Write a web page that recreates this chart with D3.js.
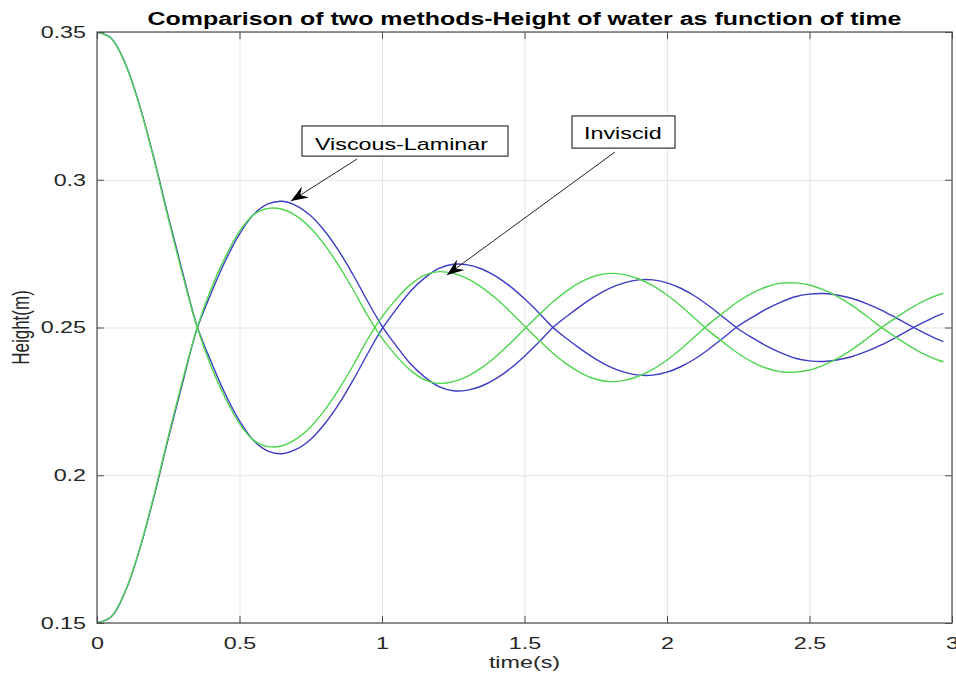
<!DOCTYPE html>
<html lang="en">
<head>
<meta charset="utf-8">
<title>Comparison of two methods</title>
<script src="https://cdn.jsdelivr.net/npm/d3@7"></script>
<style>
  body { margin: 0; background: #fff; }
  svg text { font-family: "Liberation Sans", Arial, sans-serif; }
  .grid line { stroke: #e4e4e4; }
  .grid path { display: none; }
  .axis path { display: none; }
  .axis line { stroke: #4d4d4d; }
  .axis text { fill: #262626; font-size: 17px; }
</style>
</head>
<body>
<script>
// time samples (s)
var timeS = [0, 0.05, 0.1, 0.15, 0.2, 0.25, 0.3, 0.35, 0.4, 0.45, 0.5, 0.55, 0.6, 0.65, 0.7, 0.75, 0.8, 0.85, 0.9, 0.95,
             1, 1.05, 1.1, 1.15, 1.2, 1.25, 1.3, 1.35, 1.4, 1.45, 1.5, 1.55, 1.6, 1.65, 1.7, 1.75, 1.8, 1.85, 1.9, 1.95,
             2, 2.05, 2.1, 2.15, 2.2, 2.25, 2.3, 2.35, 2.4, 2.45, 2.5, 2.55, 2.6, 2.65, 2.7, 2.75, 2.8, 2.85, 2.9, 2.95, 2.97];

// viscous-laminar (blue), tank starting high / low
var viscousHigh = [0.3500, 0.3479, 0.3392, 0.3250, 0.3072, 0.2876, 0.2688, 0.2508, 0.2385, 0.2275, 0.2184, 0.2117, 0.2082, 0.2073, 0.2088, 0.2122, 0.2175, 0.2243, 0.2324, 0.2412,
                   0.2495, 0.2562, 0.2623, 0.2668, 0.2700, 0.2714, 0.2712, 0.2698, 0.2673, 0.2639, 0.2597, 0.2550, 0.2500, 0.2461, 0.2425, 0.2393, 0.2367, 0.2349, 0.2339, 0.2339,
                   0.2349, 0.2368, 0.2395, 0.2429, 0.2467, 0.2505, 0.2535, 0.2563, 0.2586, 0.2604, 0.2613, 0.2615, 0.2609, 0.2598, 0.2581, 0.2560, 0.2535, 0.2508, 0.2483, 0.2460, 0.2452];
var viscousLow  = [0.1500, 0.1521, 0.1608, 0.1750, 0.1928, 0.2124, 0.2312, 0.2492, 0.2615, 0.2725, 0.2816, 0.2883, 0.2918, 0.2927, 0.2912, 0.2878, 0.2825, 0.2757, 0.2676, 0.2588,
                   0.2505, 0.2438, 0.2377, 0.2332, 0.2300, 0.2286, 0.2288, 0.2302, 0.2327, 0.2361, 0.2403, 0.2450, 0.2500, 0.2539, 0.2575, 0.2607, 0.2633, 0.2651, 0.2661, 0.2661,
                   0.2651, 0.2632, 0.2605, 0.2571, 0.2533, 0.2495, 0.2465, 0.2437, 0.2414, 0.2396, 0.2387, 0.2385, 0.2391, 0.2402, 0.2419, 0.2440, 0.2465, 0.2492, 0.2517, 0.2540, 0.2548];

// inviscid (green), tank starting high / low
var inviscidHigh = [0.3500, 0.3478, 0.3390, 0.3248, 0.3068, 0.2870, 0.2680, 0.2505, 0.2370, 0.2262, 0.2175, 0.2118, 0.2097, 0.2100, 0.2123, 0.2164, 0.2222, 0.2293, 0.2374, 0.2461,
                    0.2536, 0.2596, 0.2645, 0.2677, 0.2689, 0.2683, 0.2665, 0.2636, 0.2598, 0.2553, 0.2505, 0.2458, 0.2413, 0.2375, 0.2345, 0.2325, 0.2317, 0.2321, 0.2335, 0.2358,
                    0.2390, 0.2428, 0.2471, 0.2514, 0.2552, 0.2588, 0.2617, 0.2638, 0.2650, 0.2651, 0.2644, 0.2627, 0.2604, 0.2574, 0.2539, 0.2502, 0.2469, 0.2438, 0.2411, 0.2390, 0.2384];
var inviscidLow  = [0.1500, 0.1522, 0.1610, 0.1752, 0.1932, 0.2130, 0.2320, 0.2495, 0.2630, 0.2738, 0.2825, 0.2882, 0.2903, 0.2900, 0.2877, 0.2836, 0.2778, 0.2707, 0.2626, 0.2539,
                    0.2464, 0.2404, 0.2355, 0.2323, 0.2311, 0.2317, 0.2335, 0.2364, 0.2402, 0.2447, 0.2495, 0.2542, 0.2587, 0.2625, 0.2655, 0.2675, 0.2683, 0.2679, 0.2665, 0.2642,
                    0.2610, 0.2572, 0.2529, 0.2486, 0.2448, 0.2412, 0.2383, 0.2362, 0.2350, 0.2349, 0.2356, 0.2373, 0.2396, 0.2426, 0.2461, 0.2498, 0.2531, 0.2562, 0.2589, 0.2610, 0.2616];

var xTicks = [0, 0.5, 1, 1.5, 2, 2.5, 3];
var yTicks = [0.15, 0.2, 0.25, 0.3, 0.35];

var W = 956, H = 679;
var plotL = 97, plotR = 952, plotT = 32, plotB = 623;
var SX = 1.37; // the picture's text is stretched sideways

var svg = d3.select("body").append("svg")
    .attr("width", W)
    .attr("height", H);

var x = d3.scaleLinear().domain([0, 3]).range([plotL, plotR]);
var y = d3.scaleLinear().domain([0.15, 0.35]).range([plotB, plotT]);

function stretch(sel) {
    sel.each(function () {
        var w = this.getComputedTextLength();
        d3.select(this).attr("textLength", w * SX).attr("lengthAdjust", "spacingAndGlyphs");
    });
}

// grid
svg.append("g").attr("class", "grid")
    .attr("transform", "translate(0," + plotB + ")")
    .call(d3.axisBottom(x).tickValues(xTicks).tickSize(-(plotB - plotT)).tickFormat(""));
svg.append("g").attr("class", "grid")
    .attr("transform", "translate(" + plotL + ",0)")
    .call(d3.axisLeft(y).tickValues(yTicks).tickSize(-(plotR - plotL)).tickFormat(""));

// curves
svg.append("clipPath").attr("id", "plot")
    .append("rect").attr("x", plotL).attr("y", plotT).attr("width", plotR - plotL).attr("height", plotB - plotT);

var line = d3.line()
    .x(function (d) { return x(d[0]); })
    .y(function (d) { return y(d[1]); })
    .curve(d3.curveCatmullRom.alpha(0.5));

var series = [
    { values: viscousHigh, color: "#3c3cc4" },
    { values: viscousLow, color: "#3c3cc4" },
    { values: inviscidHigh, color: "#4ed64e" },
    { values: inviscidLow, color: "#4ed64e" }
];

svg.append("g").attr("clip-path", "url(#plot)")
    .selectAll("path")
    .data(series)
    .enter()
    .append("path")
    .attr("fill", "none")
    .attr("stroke", function (d) { return d.color; })
    .attr("stroke-width", 1.4)
    .attr("d", function (d) {
        return line(timeS.map(function (t, i) { return [t, d.values[i]]; }));
    });

// axes, ticks point inward
var xAxis = svg.append("g").attr("class", "axis")
    .attr("transform", "translate(0," + plotB + ")")
    .call(d3.axisBottom(x).tickValues(xTicks).tickSizeInner(-7).tickSizeOuter(0).tickPadding(14)
        .tickFormat(function (d) { return String(d); }));
xAxis.selectAll("text").call(stretch);

var yAxis = svg.append("g").attr("class", "axis")
    .attr("transform", "translate(" + plotL + ",0)")
    .call(d3.axisLeft(y).tickValues(yTicks).tickSizeInner(-7).tickSizeOuter(0).tickPadding(11)
        .tickFormat(function (d) { return String(d); }));
yAxis.selectAll("text").call(stretch);

svg.append("g").attr("class", "axis")
    .attr("transform", "translate(0," + plotT + ")")
    .call(d3.axisTop(x).tickValues(xTicks).tickSizeInner(-7).tickSizeOuter(0).tickFormat(""));
svg.append("g").attr("class", "axis")
    .attr("transform", "translate(" + plotR + ",0)")
    .call(d3.axisRight(y).tickValues(yTicks).tickSizeInner(-7).tickSizeOuter(0).tickFormat(""));

svg.append("rect")
    .attr("x", plotL).attr("y", plotT)
    .attr("width", plotR - plotL).attr("height", plotB - plotT)
    .attr("fill", "none").attr("stroke", "#4d4d4d").attr("stroke-width", 1.2);

// labels
svg.append("text")
    .attr("x", (plotL + plotR) / 2).attr("y", 25)
    .attr("text-anchor", "middle")
    .attr("font-size", "18px").attr("font-weight", "bold").attr("fill", "#000")
    .text("Comparison of two methods-Height of water as function of time")
    .attr("textLength", 754).attr("lengthAdjust", "spacingAndGlyphs");

svg.append("text")
    .attr("x", (plotL + plotR) / 2).attr("y", 668)
    .attr("text-anchor", "middle")
    .attr("font-size", "17px").attr("fill", "#262626")
    .text("time(s)")
    .call(stretch);

svg.append("text")
    .attr("transform", "translate(29," + ((plotT + plotB) / 2) + ") scale(" + SX + ",1) rotate(-90)")
    .attr("text-anchor", "middle")
    .attr("font-size", "17px").attr("fill", "#262626")
    .text("Height(m)");

// annotations
var defs = svg.append("defs");
defs.append("marker")
    .attr("id", "head")
    .attr("markerUnits", "userSpaceOnUse")
    .attr("viewBox", "-18 -8 20 16")
    .attr("refX", 0).attr("refY", 0)
    .attr("markerWidth", 20).attr("markerHeight", 16)
    .attr("orient", "auto")
    .append("path")
    .attr("d", "M0,0 L-17,-6.5 L-11,0 L-17,6.5 Z")
    .attr("fill", "#000");

var notes = [
    { label: "Viscous-Laminar", box: [0.7193, 1.4421, 0.3182, 0.3080], at: [0.7649, 0.3101], tail: [0.9123, 0.3070], tip: [0.6807, 0.2928] },
    { label: "Inviscid", box: [1.6667, 2.0281, 0.3216, 0.3107], at: [1.7088, 0.3138], tail: [1.8175, 0.3094], tip: [1.2281, 0.2678] }
];

notes.forEach(function (n) {
    svg.append("line")
        .attr("x1", x(n.tail[0])).attr("y1", y(n.tail[1]))
        .attr("x2", x(n.tip[0])).attr("y2", y(n.tip[1]))
        .attr("stroke", "#222").attr("stroke-width", 1)
        .attr("marker-end", "url(#head)");
    svg.append("rect")
        .attr("x", x(n.box[0])).attr("y", y(n.box[2]))
        .attr("width", x(n.box[1]) - x(n.box[0]))
        .attr("height", y(n.box[3]) - y(n.box[2]))
        .attr("fill", "#fff").attr("stroke", "#333").attr("stroke-width", 1.2);
    svg.append("text")
        .attr("x", x(n.at[0])).attr("y", y(n.at[1]))
        .attr("font-size", "17px").attr("fill", "#000")
        .text(n.label)
        .call(stretch);
});
</script>
</body>
</html>
